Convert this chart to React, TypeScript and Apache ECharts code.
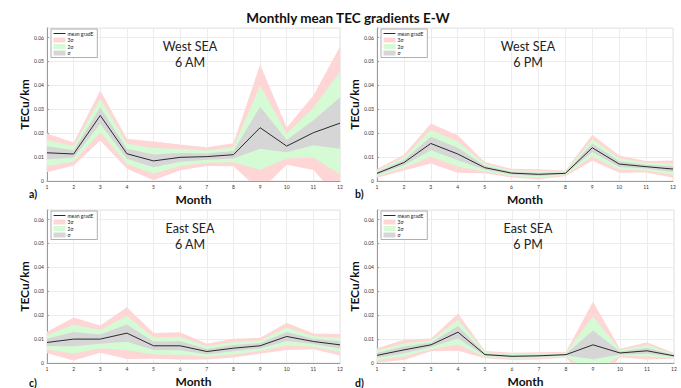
import React, { useEffect, useRef } from "react";
import * as echarts from "echarts";

const months = ["1", "2", "3", "4", "5", "6", "7", "8", "9", "10", "11", "12"];
const yTicks = [0, 0.01, 0.02, 0.03, 0.04, 0.05, 0.06];

// West SEA, 6 AM
const westAmMean = [0.0118, 0.0113, 0.0274, 0.0114, 0.0084, 0.0099, 0.0102, 0.011, 0.0223, 0.0146, 0.0202, 0.0242];
const westAmSigma = [0.0027, 0.0016, 0.0035, 0.0021, 0.0027, 0.0018, 0.0013, 0.0016, 0.0088, 0.0026, 0.0052, 0.0107];

// West SEA, 6 PM
const westPmMean = [0.0032, 0.0077, 0.0157, 0.0113, 0.0056, 0.0033, 0.0028, 0.0032, 0.0139, 0.0071, 0.006, 0.005];
const westPmSigma = [0.0006, 0.0011, 0.0028, 0.0026, 0.0008, 0.0006, 0.0007, 0.0004, 0.0018, 0.0012, 0.0008, 0.0012];

// East SEA, 6 AM
const eastAmMean = [0.0086, 0.01, 0.01, 0.0125, 0.0072, 0.0072, 0.0048, 0.0062, 0.0072, 0.0111, 0.009, 0.0076];
const eastAmSigma = [0.0015, 0.003, 0.0019, 0.0036, 0.0018, 0.0019, 0.0011, 0.0013, 0.0011, 0.0019, 0.0011, 0.0015];

// East SEA, 6 PM
const eastPmMean = [0.0032, 0.0055, 0.0076, 0.0129, 0.0035, 0.0028, 0.003, 0.0035, 0.0076, 0.0042, 0.0051, 0.003];
const eastPmSigma = [0.001, 0.0014, 0.0009, 0.0026, 0.0005, 0.0005, 0.0005, 0.0004, 0.006, 0.0006, 0.0012, 0.0004];

const panels = [
  { tag: "a)", region: "West SEA", time: "6 AM", mean: westAmMean, sigma: westAmSigma },
  { tag: "b)", region: "West SEA", time: "6 PM", mean: westPmMean, sigma: westPmSigma },
  { tag: "c)", region: "East SEA", time: "6 AM", mean: eastAmMean, sigma: eastAmSigma },
  { tag: "d)", region: "East SEA", time: "6 PM", mean: eastPmMean, sigma: eastPmSigma },
];

const bands = [
  { k: 3, name: "3σ", color: "#ffd6d6" },
  { k: 2, name: "2σ", color: "#d4fbd4" },
  { k: 1, name: "σ", color: "#d6d6d6" },
];

const FONT = "Lato, 'Noto Sans', sans-serif";

// plot rectangles: [left, top, width, height]
const rects = [
  [47, 28, 293, 153],
  [377, 28, 296, 153],
  [47, 210, 293, 153],
  [377, 210, 297, 153],
];

const r5 = (v: number) => Math.round(v * 100000) / 100000;

export default function App() {
  const ref = useRef<HTMLDivElement>(null);

  useEffect(() => {
    if (!ref.current) return;
    const chart = echarts.init(ref.current, undefined, { renderer: "svg" });

    const grid: any[] = [];
    const xAxis: any[] = [];
    const yAxis: any[] = [];
    const series: any[] = [];
    const legend: any[] = [];
    const graphic: any[] = [];

    panels.forEach((p, i) => {
      const [l, t, w, h] = rects[i];
      grid.push({
        left: l,
        top: t,
        width: w,
        height: h,
        show: true,
        borderColor: "#e4e4e4",
        borderWidth: 1,
        backgroundColor: "transparent",
      });
      xAxis.push({
        type: "category",
        gridIndex: i,
        data: months,
        boundaryGap: false,
        name: "Month",
        nameLocation: "middle",
        nameGap: 12,
        nameTextStyle: { fontFamily: FONT, fontWeight: "bold", fontSize: 12, color: "#111" },
        axisLine: { show: true, lineStyle: { color: "#9a9a9a", width: 1 } },
        axisTick: { show: false },
        axisLabel: { interval: 0, fontSize: 5, color: "#333", margin: 3, fontFamily: FONT },
        splitLine: { show: true, interval: 0, lineStyle: { color: "#ececec", width: 1 } },
      });
      yAxis.push({
        type: "value",
        gridIndex: i,
        min: 0,
        max: 0.064,
        interval: 0.01,
        name: "TECu/km",
        nameLocation: "middle",
        nameGap: 17,
        nameRotate: 90,
        nameTextStyle: { fontFamily: FONT, fontWeight: "bold", fontSize: 12, color: "#111" },
        axisLine: { show: true, lineStyle: { color: "#9a9a9a", width: 1 } },
        axisTick: { show: true, inside: true, length: 2, lineStyle: { color: "#9a9a9a" } },
        axisLabel: {
          fontSize: 5,
          color: "#333",
          margin: 3,
          fontFamily: FONT,
          showMaxLabel: false,
          formatter: (v: number) => {
            const hit = yTicks.find((tk) => Math.abs(tk - v) < 1e-9);
            if (hit === undefined) return "";
            return hit === 0 ? "0" : hit.toFixed(2);
          },
        },
        splitLine: { show: true, lineStyle: { color: "#ececec", width: 1 } },
      });

      bands.forEach((b) => {
        const stack = `p${i}-${b.k}`;
        const lower = p.mean.map((m, j) => r5(m - b.k * p.sigma[j]));
        const span = p.sigma.map((s) => r5(2 * b.k * s));
        series.push({
          type: "line",
          name: `${b.name} base ${i}`,
          xAxisIndex: i,
          yAxisIndex: i,
          stack,
          stackStrategy: "all",
          data: lower,
          symbol: "none",
          lineStyle: { opacity: 0, width: 0 },
          silent: true,
        });
        series.push({
          type: "line",
          name: b.name,
          xAxisIndex: i,
          yAxisIndex: i,
          stack,
          stackStrategy: "all",
          data: span,
          symbol: "none",
          color: b.color,
          lineStyle: { width: 0, opacity: 0 },
          areaStyle: { color: b.color, opacity: 1 },
          silent: true,
        });
      });

      series.push({
        type: "line",
        name: "mean gradE",
        xAxisIndex: i,
        yAxisIndex: i,
        data: p.mean,
        symbol: "none",
        color: "#2a2a2a",
        lineStyle: { color: "#2a2a2a", width: 1 },
        silent: true,
      });

      legend.push({
        left: l + 4,
        top: t + 1,
        orient: "vertical",
        itemWidth: 12,
        itemHeight: 5,
        itemGap: 1.5,
        padding: [2, 4, 2, 2],
        borderColor: "#9a9a9a",
        borderWidth: 0.8,
        borderRadius: 0,
        backgroundColor: "#ffffff",
        selectedMode: false,
        textStyle: { fontSize: 5, color: "#222", fontFamily: FONT, padding: [0, 0, 0, -3] },
        data: [
          { name: "mean gradE", itemStyle: { opacity: 0 }, lineStyle: { color: "#2a2a2a", width: 1 } },
          { name: "3σ", icon: "rect" },
          { name: "2σ", icon: "rect" },
          { name: "σ", icon: "rect" },
        ],
      });

      const cx = i % 2 === 0 ? l + 143 : l + 151;
      graphic.push({
        type: "text",
        x: cx,
        y: t + 11,
        z: 100,
        style: {
          text: `${p.region}\n${p.time}`,
          fontFamily: FONT,
          fontSize: 12.5,
          lineHeight: 15.5,
          fill: "#222",
          align: "center",
          verticalAlign: "top",
        },
      });
      graphic.push({
        type: "text",
        x: i % 2 === 0 ? 29 : 355,
        y: i < 2 ? 188 : 377,
        z: 100,
        style: { text: p.tag, fontFamily: FONT, fontSize: 10.5, fontWeight: "bold", fill: "#111", verticalAlign: "top" },
      });
    });

    chart.setOption({
      animation: false,
      backgroundColor: "#ffffff",
      title: {
        text: "Monthly mean TEC gradients E-W",
        left: 343,
        top: 6,
        textAlign: "center",
        textStyle: { fontFamily: FONT, fontSize: 13.5, fontWeight: "bold", color: "#111" },
      },
      grid,
      xAxis,
      yAxis,
      legend,
      series,
      graphic,
    });

    return () => chart.dispose();
  }, []);

  return (
    <div
      ref={ref}
      style={{ position: "fixed", left: 0, top: 0, width: 681, height: 388, background: "#fff" }}
    />
  );
}
